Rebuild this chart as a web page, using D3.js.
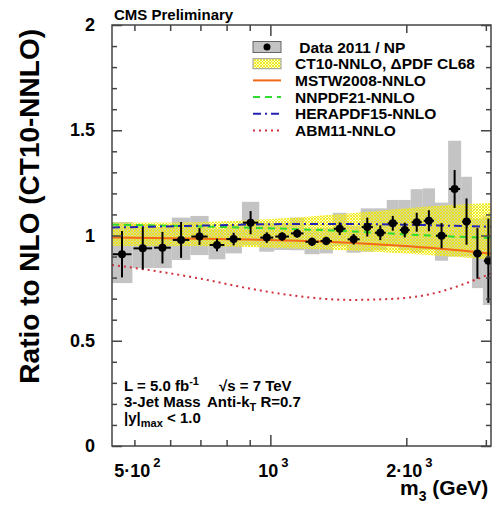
<!DOCTYPE html>
<meta charset="utf-8">
<style>
body { margin: 0; background: #fff; }
svg { display: block; font-family: "Liberation Sans", Arial, sans-serif; font-weight: bold; }
.axis path { display: none; }
.axis line { stroke: #444; stroke-width: 1.5px; }
</style>
<svg width="492" height="508"></svg>
<script src="https://cdn.jsdelivr.net/npm/d3@7"></script>
<script>

// bins in m3 (GeV)
var binEdges = [445, 495, 550, 605, 665, 730, 795, 865, 945, 1020, 1105, 1190, 1285, 1375,
                1475, 1585, 1695, 1810, 1925, 2045, 2175, 2315, 2475, 2645, 2795, 2955, 3125];
var ratio   = [0.911, 0.939, 0.942, 0.979, 0.995, 0.955, 0.983, 1.061, 0.990, 0.995, 1.010, 0.970, 0.974,
               1.032, 0.982, 1.040, 1.013, 1.058, 1.026, 1.063, 1.070, 0.999, 1.221, 1.066, 0.915, 0.880];
var statErr = [0.110, 0.100, 0.075, 0.085, 0.040, 0.030, 0.030, 0.055, 0.025, 0.020, 0.020, 0.020, 0.020,
               0.030, 0.025, 0.045, 0.035, 0.035, 0.035, 0.045, 0.050, 0.060, 0.090, 0.110, 0.120, 0.200];
var sysLo   = [0.774, 0.845, 0.845, 0.884, 0.907, 0.887, 0.915, 0.955, 0.923, 0.931, 0.930, 0.911, 0.915,
               0.950, 0.918, 0.923, 0.930, 0.950, 0.930, 0.920, 0.930, 0.880, 0.900, 0.900, 0.750, 0.670];
var sysHi   = [1.064, 1.055, 1.040, 1.085, 1.093, 1.030, 1.050, 1.160, 1.060, 1.060, 1.085, 1.030, 1.035,
               1.108, 1.045, 1.129, 1.129, 1.169, 1.169, 1.220, 1.224, 1.156, 1.450, 1.279, 1.080, 1.090];

// CT10 PDF uncertainty band
var bandMass = [446, 600, 800, 1000, 1300, 1600, 2000, 2500, 3125];
var bandLo   = [0.950, 0.950, 0.948, 0.942, 0.935, 0.925, 0.915, 0.900, 0.885];
var bandHi   = [1.062, 1.062, 1.068, 1.078, 1.095, 1.110, 1.130, 1.145, 1.155];

// other PDF sets relative to CT10
var theoryMass = [446, 550, 700, 900, 1150, 1500, 1900, 2350, 2750, 3125];
var mstw    = [0.990, 0.988, 0.985, 0.981, 0.975, 0.965, 0.952, 0.938, 0.925, 0.912];
var nnpdf   = [1.052, 1.048, 1.043, 1.037, 1.030, 1.020, 1.008, 0.998, 0.992, 0.988];
var herapdf = [1.038, 1.042, 1.047, 1.052, 1.055, 1.055, 1.052, 1.048, 1.044, 1.041];
var abm     = [0.860, 0.833, 0.795, 0.748, 0.712, 0.694, 0.700, 0.730, 0.778, 0.825];

var svg = d3.select("svg");
var pL = 112, pR = 491, pT = 25, pB = 446;

var x = d3.scaleLog().domain([446, 3080]).range([pL, pR]);
var y = d3.scaleLinear().domain([0, 2]).range([pB, pT]);

var defs = svg.append("defs");
defs.append("clipPath").attr("id", "clip")
    .append("rect").attr("x", pL).attr("y", pT).attr("width", pR - pL).attr("height", pB - pT);

var pat = defs.append("pattern").attr("id", "hatch")
    .attr("width", 3).attr("height", 3).attr("patternUnits", "userSpaceOnUse");
pat.append("rect").attr("width", 3).attr("height", 3).attr("fill", "#ffff50").attr("fill-opacity", 0.3);
pat.append("path").attr("d", "M0,0L3,3M3,0L0,3")
    .attr("stroke", "#eee400").attr("stroke-width", 0.8);

var plot = svg.append("g").attr("clip-path", "url(#clip)");

var bins = ratio.map(function(v, i) {
    return { lo: binEdges[i], hi: binEdges[i + 1], v: v, e: statErr[i], sl: sysLo[i], sh: sysHi[i] };
});

// systematic boxes
plot.append("g").selectAll("rect")
    .data(bins)
    .enter().append("rect")
    .attr("x", function(d) { return x(d.lo); })
    .attr("width", function(d) { return x(d.hi) - x(d.lo); })
    .attr("y", function(d) { return y(d.sh); })
    .attr("height", function(d) { return y(d.sl) - y(d.sh); })
    .attr("fill", "#c4c4c4");

// CT10 band
var band = bandMass.map(function(m, i) { return { m: m, lo: bandLo[i], hi: bandHi[i] }; });
plot.append("path")
    .datum(band)
    .attr("fill", "url(#hatch)")
    .attr("d", d3.area()
        .curve(d3.curveMonotoneX)
        .x(function(d) { return x(d.m); })
        .y0(function(d) { return y(d.lo); })
        .y1(function(d) { return y(d.hi); }));

var curves = [
    { v: abm,     color: "#d2303c", dash: "2,4" },
    { v: mstw,    color: "#f26a16", dash: null },
    { v: nnpdf,   color: "#2fdc2f", dash: "7,5" },
    { v: herapdf, color: "#2424b4", dash: "8,4,2,4" }
];
var line = d3.line().curve(d3.curveMonotoneX)
    .x(function(d) { return x(d[0]); })
    .y(function(d) { return y(d[1]); });

plot.append("g").selectAll("path")
    .data(curves)
    .enter().append("path")
    .attr("fill", "none")
    .attr("stroke", function(d) { return d.color; })
    .attr("stroke-width", 2)
    .attr("stroke-dasharray", function(d) { return d.dash; })
    .attr("d", function(d) { return line(theoryMass.map(function(m, i) { return [m, d.v[i]]; })); });

// data points
var pts = plot.append("g").selectAll("g")
    .data(bins)
    .enter().append("g");
pts.append("line")
    .attr("x1", function(d) { return x(d.lo) + 1; })
    .attr("x2", function(d) { return x(d.hi) - 1; })
    .attr("y1", function(d) { return y(d.v); })
    .attr("y2", function(d) { return y(d.v); })
    .attr("stroke", "#000").attr("stroke-width", 2);
pts.append("line")
    .attr("x1", function(d) { return x(Math.sqrt(d.lo * d.hi)); })
    .attr("x2", function(d) { return x(Math.sqrt(d.lo * d.hi)); })
    .attr("y1", function(d) { return y(d.v + d.e); })
    .attr("y2", function(d) { return y(d.v - d.e); })
    .attr("stroke", "#000").attr("stroke-width", 2);
pts.append("circle")
    .attr("cx", function(d) { return x(Math.sqrt(d.lo * d.hi)); })
    .attr("cy", function(d) { return y(d.v); })
    .attr("r", 4)
    .attr("fill", "#000");

// frame + ticks
var majorY = [0, 0.5, 1, 1.5, 2];
var minorY = d3.range(1, 20).map(function(i) { return i / 10; }).filter(function(v) { return Math.round(v * 10) % 5 != 0; });

function yAxes(axisFn, xpos) {
    svg.append("g").attr("class", "axis").attr("transform", "translate(" + xpos + ",0)")
        .call(axisFn(y).tickValues(majorY).tickSize(10).tickFormat(""));
    svg.append("g").attr("class", "axis").attr("transform", "translate(" + xpos + ",0)")
        .call(axisFn(y).tickValues(minorY).tickSize(5).tickFormat(""));
}
yAxes(d3.axisRight, pL);
yAxes(d3.axisLeft, pR);

function xAxes(axisFn, ypos) {
    [[[1000], 11], [[2000], 8], [[500, 600, 700, 800, 900, 3000], 6]].forEach(function(t) {
        svg.append("g").attr("class", "axis").attr("transform", "translate(0," + ypos + ")")
            .call(axisFn(x).tickValues(t[0]).tickSize(t[1]).tickFormat(""));
    });
}
xAxes(d3.axisTop, pB);
xAxes(d3.axisBottom, pT);

svg.append("rect")
    .attr("x", pL).attr("y", pT).attr("width", pR - pL).attr("height", pB - pT)
    .attr("fill", "none").attr("stroke", "#444").attr("stroke-width", 1.5);

// tick labels
svg.append("g").selectAll("text")
    .data(majorY)
    .enter().append("text")
    .attr("x", 95)
    .attr("y", function(d) { return y(d) + 6; })
    .attr("text-anchor", "end")
    .attr("font-size", 18)
    .text(function(d) { return d; });

var xLabels = [
    { v: 500, base: "5\u00b710", exp: "2" },
    { v: 1000, base: "10", exp: "3" },
    { v: 2000, base: "2\u00b710", exp: "3" }
];
xLabels.forEach(function(l) {
    var t = svg.append("text")
        .attr("x", x(l.v) + 3)
        .attr("y", 477)
        .attr("text-anchor", "middle")
        .attr("font-size", 18);
    t.append("tspan").text(l.base);
    t.append("tspan").attr("dx", 3).attr("dy", -10).attr("font-size", 13).text(l.exp);
});

// axis titles
var xt = svg.append("text").attr("x", 400).attr("y", 495).attr("font-size", 21);
xt.append("tspan").text("m");
xt.append("tspan").attr("dy", 6).attr("font-size", 14).text("3");
xt.append("tspan").attr("dy", -6).text(" (GeV)");

svg.append("text")
    .attr("transform", "translate(39,29) rotate(-90)")
    .attr("text-anchor", "end")
    .attr("font-size", 28)
    .text("Ratio to NLO (CT10-NNLO)");

svg.append("text").attr("x", 114).attr("y", 20).attr("font-size", 15).text("CMS Preliminary");

// legend
var legend = svg.append("g").attr("font-size", 15.5);
var legendLabels = [" Data 2011 / NP", "CT10-NNLO, \u0394PDF CL68", "MSTW2008-NNLO",
                    "NNPDF21-NNLO", "HERAPDF15-NNLO", "ABM11-NNLO"];
var rowY = d3.range(6).map(function(i) { return 47 + i * 16.7; });
legend.selectAll("text")
    .data(legendLabels)
    .enter().append("text")
    .attr("x", 295)
    .attr("y", function(d, i) { return rowY[i] + 5.5; })
    .attr("xml:space", "preserve")
    .text(function(d) { return d; });

legend.append("rect").attr("x", 253).attr("y", rowY[0] - 5.5).attr("width", 28).attr("height", 11)
    .attr("fill", "#c4c4c4").attr("stroke", "#666").attr("stroke-width", 1);
legend.append("circle").attr("cx", 267).attr("cy", rowY[0]).attr("r", 3.5).attr("fill", "#000");
legend.append("rect").attr("x", 253).attr("y", rowY[1] - 5).attr("width", 28).attr("height", 10)
    .attr("fill", "url(#hatch)").attr("stroke", "#999").attr("stroke-width", 1);
curves.forEach(function(c, i) {
    var row = [5, 2, 3, 4][i];
    legend.append("line")
        .attr("x1", 253).attr("x2", 281)
        .attr("y1", rowY[row]).attr("y2", rowY[row])
        .attr("stroke", c.color).attr("stroke-width", 2)
        .attr("stroke-dasharray", c.dash);
});

// info text
var info = svg.append("g").attr("font-size", 15);
var t1 = info.append("text").attr("x", 124).attr("y", 391);
t1.append("tspan").text("L = 5.0 fb");
t1.append("tspan").attr("dy", -6).attr("font-size", 11).text("-1");
t1.append("tspan").attr("x", 219).attr("dy", 6).text("\u221As = 7 TeV");
var t2 = info.append("text").attr("x", 124).attr("y", 407);
t2.append("tspan").text("3-Jet Mass");
t2.append("tspan").attr("x", 207).text("Anti-k");
t2.append("tspan").attr("dy", 4).attr("font-size", 11).text("T");
t2.append("tspan").attr("dy", -4).text(" R=0.7");
var t3 = info.append("text").attr("x", 124).attr("y", 423);
t3.append("tspan").text("|y|");
t3.append("tspan").attr("dy", 4).attr("font-size", 11).text("max");
t3.append("tspan").attr("dy", -4).text(" < 1.0");

</script>
